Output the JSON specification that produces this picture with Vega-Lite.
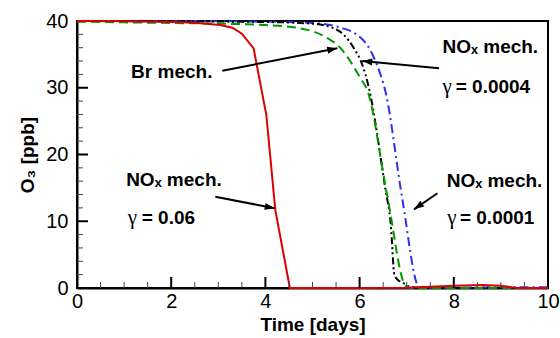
{
  "$schema": "https://vega.github.io/schema/vega-lite/v6.json",
  "width": 471,
  "height": 267,
  "autosize": {"type": "none"},
  "padding": {"left": 77, "top": 21, "right": 12, "bottom": 50},
  "background": "white",
  "config": {
    "view": {"stroke": "black", "strokeWidth": 2},
    "font": "Liberation Sans",
    "axis": {
      "domainColor": "black",
      "domainWidth": 2,
      "ticks": false,
      "grid": false,
      "labelFont": "Liberation Sans",
      "labelFontSize": 20,
      "labelColor": "black",
      "titleFont": "Liberation Sans",
      "titleFontSize": 19,
      "titleFontWeight": "bold",
      "titleColor": "black",
      "labelFlush": false,
      "labelOverlap": false
    }
  },
  "datasets": {
    "curves": [
      {"s": "0.0001", "x": 0, "y": 40},
      {"s": "0.0001", "x": 2, "y": 40},
      {"s": "0.0001", "x": 4, "y": 39.9},
      {"s": "0.0001", "x": 5, "y": 39.7},
      {"s": "0.0001", "x": 5.6, "y": 39.0},
      {"s": "0.0001", "x": 5.91, "y": 38.1},
      {"s": "0.0001", "x": 6.16, "y": 36.4},
      {"s": "0.0001", "x": 6.37, "y": 33.4},
      {"s": "0.0001", "x": 6.55, "y": 29.4},
      {"s": "0.0001", "x": 6.91, "y": 13.2},
      {"s": "0.0001", "x": 7.26, "y": 0.2},
      {"s": "0.0001", "x": 7.4, "y": 0.05},
      {"s": "0.0001", "x": 8, "y": 0.05},
      {"s": "0.0001", "x": 9, "y": 0.1},
      {"s": "0.0001", "x": 10, "y": 0.1},
      {"s": "0.0004", "x": 0, "y": 40},
      {"s": "0.0004", "x": 2, "y": 39.95},
      {"s": "0.0004", "x": 4, "y": 39.85},
      {"s": "0.0004", "x": 5, "y": 39.6},
      {"s": "0.0004", "x": 5.45, "y": 38.9},
      {"s": "0.0004", "x": 5.67, "y": 37.9},
      {"s": "0.0004", "x": 5.88, "y": 35.9},
      {"s": "0.0004", "x": 6.06, "y": 33.4},
      {"s": "0.0004", "x": 6.2, "y": 29.9},
      {"s": "0.0004", "x": 6.55, "y": 14.7},
      {"s": "0.0004", "x": 6.66, "y": 9.7},
      {"s": "0.0004", "x": 6.74, "y": 1.9},
      {"s": "0.0004", "x": 6.8, "y": 1.3},
      {"s": "0.0004", "x": 6.94, "y": 0.7},
      {"s": "0.0004", "x": 7.1, "y": 0.1},
      {"s": "0.0004", "x": 7.5, "y": 0},
      {"s": "0.0004", "x": 10, "y": 0},
      {"s": "Br", "x": 0, "y": 39.9},
      {"s": "Br", "x": 1, "y": 39.8},
      {"s": "Br", "x": 2, "y": 39.7},
      {"s": "Br", "x": 3, "y": 39.6},
      {"s": "Br", "x": 4, "y": 39.4},
      {"s": "Br", "x": 4.74, "y": 38.9},
      {"s": "Br", "x": 5.28, "y": 37.6},
      {"s": "Br", "x": 5.6, "y": 35.9},
      {"s": "Br", "x": 5.81, "y": 33.9},
      {"s": "Br", "x": 6.02, "y": 31.4},
      {"s": "Br", "x": 6.16, "y": 29.7},
      {"s": "Br", "x": 6.59, "y": 13.7},
      {"s": "Br", "x": 6.98, "y": 0.3},
      {"s": "Br", "x": 7.1, "y": 0},
      {"s": "Br", "x": 10, "y": 0}
    ],
    "red": [
      {"s": "0.06", "x": 0, "y": 40},
      {"s": "0.06", "x": 1, "y": 39.95},
      {"s": "0.06", "x": 2, "y": 39.85},
      {"s": "0.06", "x": 2.5, "y": 39.75},
      {"s": "0.06", "x": 3.04, "y": 39.4},
      {"s": "0.06", "x": 3.3, "y": 39.0},
      {"s": "0.06", "x": 3.5, "y": 38.1},
      {"s": "0.06", "x": 3.75, "y": 35.9},
      {"s": "0.06", "x": 4.02, "y": 25.9},
      {"s": "0.06", "x": 4.21, "y": 11.7},
      {"s": "0.06", "x": 4.52, "y": 0},
      {"s": "0.06", "x": 6, "y": 0},
      {"s": "0.06", "x": 7, "y": 0.05},
      {"s": "0.06", "x": 7.5, "y": 0.2},
      {"s": "0.06", "x": 8, "y": 0.35},
      {"s": "0.06", "x": 8.6, "y": 0.45},
      {"s": "0.06", "x": 9.0, "y": 0.35},
      {"s": "0.06", "x": 9.3, "y": 0.05},
      {"s": "0.06", "x": 9.5, "y": 0},
      {"s": "0.06", "x": 10, "y": 0}
    ],
    "labels": [
      {"x": 1.149, "y": 31.46, "text": "Br mech."},
      {"x": 7.76, "y": 35.16, "text": "NOₓ mech."},
      {"x": 1.043, "y": 15.28, "text": "NOₓ mech."},
      {"x": 7.85, "y": 15.09, "text": "NOₓ mech."},
      {"x": 8.04, "y": 29.17, "text": "= 0.0004"},
      {"x": 1.374, "y": 9.59, "text": "= 0.06"},
      {"x": 8.13, "y": 9.59, "text": "= 0.0001"}
    ],
    "gammas": [
      {"x": 7.76, "y": 29.17, "text": "γ"},
      {"x": 1.077, "y": 9.59, "text": "γ"},
      {"x": 7.86, "y": 9.59, "text": "γ"}
    ],
    "arrows": [
      {"id": "br", "x": 3.085, "y": 32.55, "x2": 5.526, "y2": 35.91},
      {"id": "a4", "x": 7.687, "y": 32.91, "x2": 6.057, "y2": 34.01},
      {"id": "a6", "x": 2.936, "y": 13.68, "x2": 4.198, "y2": 11.94},
      {"id": "a1", "x": 7.653, "y": 14.19, "x2": 7.155, "y2": 11.79}
    ],
    "xmajor": [{"v": 2}, {"v": 4}, {"v": 6}, {"v": 8}],
    "xminor": [{"v": 0.5}, {"v": 1}, {"v": 1.5}, {"v": 2.5}, {"v": 3}, {"v": 3.5}, {"v": 4.5}, {"v": 5}, {"v": 5.5}, {"v": 6.5}, {"v": 7}, {"v": 7.5}, {"v": 8.5}, {"v": 9}, {"v": 9.5}],
    "ymajor": [{"v": 10}, {"v": 20}, {"v": 30}],
    "yminor": [{"v": 2}, {"v": 4}, {"v": 6}, {"v": 8}, {"v": 12}, {"v": 14}, {"v": 16}, {"v": 18}, {"v": 22}, {"v": 24}, {"v": 26}, {"v": 28}, {"v": 32}, {"v": 34}, {"v": 36}, {"v": 38}]
  },
  "layer": [
    {
      "data": {"name": "curves"},
      "mark": {"type": "line", "strokeWidth": 2, "interpolate": "monotone"},
      "encoding": {
        "x": {
          "field": "x", "type": "quantitative",
          "scale": {"domain": [0, 10], "nice": false, "zero": false},
          "axis": {
            "title": "Time [days]",
            "orient": "bottom",
            "values": [0, 2, 4, 6, 8, 10],
            "labelPadding": 3,
            "titlePadding": 4
          }
        },
        "y": {
          "field": "y", "type": "quantitative",
          "scale": {"domain": [0, 40], "nice": false},
          "axis": {
            "title": "O₃ [ppb]",
            "orient": "left",
            "values": [0, 10, 20, 30, 40],
            "labelPadding": 9,
            "titlePadding": 8
          }
        },
        "color": {
          "field": "s", "type": "nominal",
          "scale": {"domain": ["0.0001", "0.0004", "Br", "0.06"], "range": ["#3030f0", "#000000", "#009a00", "#dd0000"]},
          "legend": null
        },
        "strokeDash": {
          "field": "s", "type": "nominal",
          "scale": {"domain": ["0.0001", "0.0004", "Br", "0.06"], "range": [[9, 4, 2, 4], [7, 3, 2, 3, 2, 3], [9, 5], [1, 0]]},
          "legend": null
        }
      }
    },
    {
      "data": {"name": "red"},
      "mark": {"type": "line", "strokeWidth": 2, "interpolate": "linear", "color": "#dd0000"},
      "encoding": {
        "x": {"field": "x", "type": "quantitative"},
        "y": {"field": "y", "type": "quantitative"}
      }
    },
    {
      "data": {"name": "xmajor"},
      "mark": {"type": "rule", "color": "black", "strokeWidth": 2},
      "encoding": {
        "x": {"field": "v", "type": "quantitative"},
        "y": {"datum": 0, "type": "quantitative"},
        "y2": {"datum": 1.65}
      }
    },
    {
      "data": {"name": "xminor"},
      "mark": {"type": "rule", "color": "#444444", "strokeWidth": 1},
      "encoding": {
        "x": {"field": "v", "type": "quantitative"},
        "y": {"datum": 0, "type": "quantitative"},
        "y2": {"datum": 0.9}
      }
    },
    {
      "data": {"name": "ymajor"},
      "mark": {"type": "rule", "color": "black", "strokeWidth": 2},
      "encoding": {
        "y": {"field": "v", "type": "quantitative"},
        "x": {"datum": 0, "type": "quantitative"},
        "x2": {"datum": 0.234}
      }
    },
    {
      "data": {"name": "yminor"},
      "mark": {"type": "rule", "color": "#444444", "strokeWidth": 1},
      "encoding": {
        "y": {"field": "v", "type": "quantitative"},
        "x": {"datum": 0, "type": "quantitative"},
        "x2": {"datum": 0.127}
      }
    },
    {
      "data": {"name": "arrows"},
      "mark": {"type": "rule", "color": "black", "strokeWidth": 2},
      "encoding": {
        "x": {"field": "x", "type": "quantitative"},
        "y": {"field": "y", "type": "quantitative"},
        "x2": {"field": "x2"},
        "y2": {"field": "y2"}
      }
    },
    {
      "data": {"name": "arrows"},
      "transform": [{"filter": "datum.id === 'br'"}],
      "mark": {"type": "point", "shape": "M0,0 L-2,-0.7 L-2,0.7 Z", "filled": true, "color": "black", "opacity": 1, "size": 100, "angle": -11.05},
      "encoding": {"x": {"field": "x2", "type": "quantitative"}, "y": {"field": "y2", "type": "quantitative"}}
    },
    {
      "data": {"name": "arrows"},
      "transform": [{"filter": "datum.id === 'a4'"}],
      "mark": {"type": "point", "shape": "M0,0 L-2,-0.7 L-2,0.7 Z", "filled": true, "color": "black", "opacity": 1, "size": 100, "angle": 185.44},
      "encoding": {"x": {"field": "x2", "type": "quantitative"}, "y": {"field": "y2", "type": "quantitative"}}
    },
    {
      "data": {"name": "arrows"},
      "transform": [{"filter": "datum.id === 'a6'"}],
      "mark": {"type": "point", "shape": "M0,0 L-2,-0.7 L-2,0.7 Z", "filled": true, "color": "black", "opacity": 1, "size": 100, "angle": 11.07},
      "encoding": {"x": {"field": "x2", "type": "quantitative"}, "y": {"field": "y2", "type": "quantitative"}}
    },
    {
      "data": {"name": "arrows"},
      "transform": [{"filter": "datum.id === 'a1'"}],
      "mark": {"type": "point", "shape": "M0,0 L-2,-0.7 L-2,0.7 Z", "filled": true, "color": "black", "opacity": 1, "size": 100, "angle": 145.64},
      "encoding": {"x": {"field": "x2", "type": "quantitative"}, "y": {"field": "y2", "type": "quantitative"}}
    },
    {
      "data": {"name": "labels"},
      "mark": {"type": "text", "font": "Liberation Sans", "fontSize": 19, "fontWeight": "bold", "align": "left", "baseline": "alphabetic", "color": "black"},
      "encoding": {
        "x": {"field": "x", "type": "quantitative"},
        "y": {"field": "y", "type": "quantitative"},
        "text": {"field": "text"}
      }
    },
    {
      "data": {"name": "gammas"},
      "mark": {"type": "text", "font": "Liberation Serif", "fontSize": 21, "fontWeight": "normal", "align": "left", "baseline": "alphabetic", "color": "black"},
      "encoding": {
        "x": {"field": "x", "type": "quantitative"},
        "y": {"field": "y", "type": "quantitative"},
        "text": {"field": "text"}
      }
    }
  ]
}
